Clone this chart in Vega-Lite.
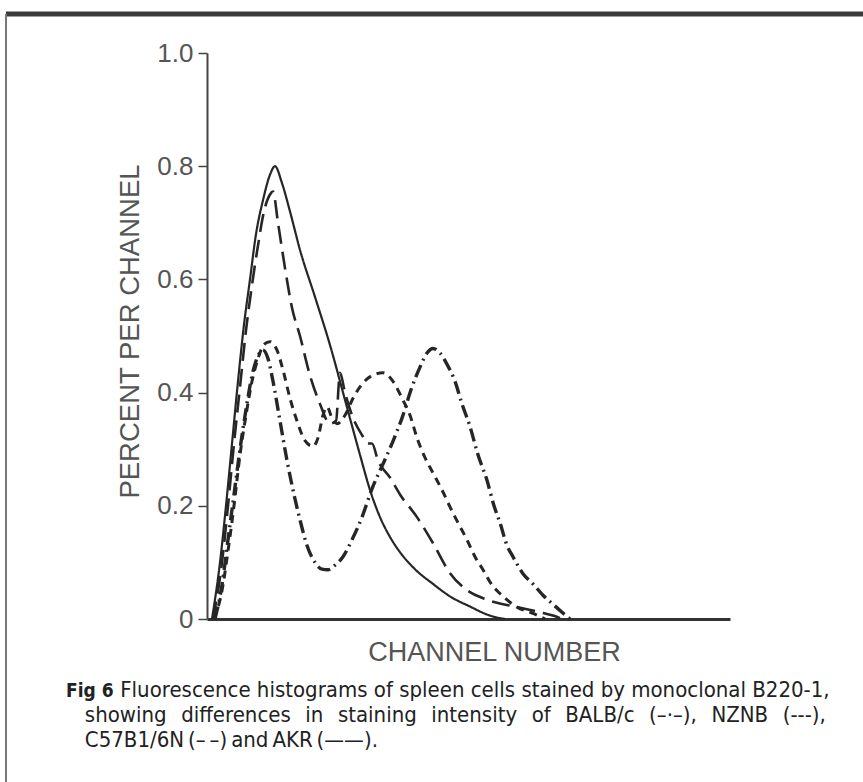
{
  "$schema": "https://vega.github.io/schema/vega-lite/v6.json",
  "width": 523,
  "height": 566,
  "autosize": {"type": "none"},
  "padding": {"left": 207, "top": 53, "right": 133, "bottom": 163},
  "background": "white",
  "config": {"view": {"stroke": null}, "font": "Liberation Sans"},
  "title": {
    "text": "Fig\u00a06",
    "subtitle": [
      "\u200b\u00a0\u00a0\u00a0\u00a0\u00a0\u00a0\u00a0\u00a0\u2009Fluorescence histograms of spleen cells stained by monoclonal B220-1,",
      "\u200b\u00a0\u00a0\u00a0showing\u00a0\u00a0\u200adifferences\u00a0\u00a0\u200ain\u00a0\u00a0\u200astaining\u00a0\u00a0\u200aintensity\u00a0\u00a0\u200aof\u00a0\u00a0\u200aBALB/c\u00a0\u00a0\u200a(–·–),\u00a0\u00a0\u200aNZNB\u00a0\u00a0\u200a(---),",
      "\u200b\u00a0\u00a0\u00a0C57B1/6N\u2009(–\u2009–)\u2009and\u2009AKR\u2009(——)."
    ],
    "orient": "bottom",
    "anchor": "start",
    "frame": "group",
    "dx": -141,
    "offset": -102,
    "font": "DejaVu Sans Condensed, Liberation Sans",
    "fontSize": 19,
    "fontWeight": "bold",
    "color": "#222",
    "subtitleFont": "DejaVu Sans Condensed, Liberation Sans",
    "subtitleFontSize": 22,
    "subtitleColor": "#222",
    "subtitleLineHeight": 25,
    "subtitlePadding": -21
  },
  "datasets": {
    "curves": [
      {"strain": "AKR", "c": 2.5, "v": 0},
      {"strain": "AKR", "c": 6.5, "v": 0.1},
      {"strain": "AKR", "c": 9.5, "v": 0.2},
      {"strain": "AKR", "c": 12.5, "v": 0.31},
      {"strain": "AKR", "c": 15.5, "v": 0.42},
      {"strain": "AKR", "c": 18.5, "v": 0.52},
      {"strain": "AKR", "c": 21.5, "v": 0.6},
      {"strain": "AKR", "c": 24.5, "v": 0.68},
      {"strain": "AKR", "c": 28, "v": 0.74},
      {"strain": "AKR", "c": 31.5, "v": 0.785},
      {"strain": "AKR", "c": 34, "v": 0.8},
      {"strain": "AKR", "c": 37.5, "v": 0.77},
      {"strain": "AKR", "c": 41.5, "v": 0.72},
      {"strain": "AKR", "c": 46.5, "v": 0.652},
      {"strain": "AKR", "c": 54, "v": 0.569},
      {"strain": "AKR", "c": 61.5, "v": 0.484},
      {"strain": "AKR", "c": 69, "v": 0.387},
      {"strain": "AKR", "c": 76.5, "v": 0.29},
      {"strain": "AKR", "c": 81.5, "v": 0.228},
      {"strain": "AKR", "c": 86.5, "v": 0.18},
      {"strain": "AKR", "c": 91.5, "v": 0.145},
      {"strain": "AKR", "c": 96.5, "v": 0.118},
      {"strain": "AKR", "c": 104, "v": 0.088},
      {"strain": "AKR", "c": 113, "v": 0.062},
      {"strain": "AKR", "c": 121.5, "v": 0.04},
      {"strain": "AKR", "c": 131.5, "v": 0.022},
      {"strain": "AKR", "c": 141.5, "v": 0.006},
      {"strain": "AKR", "c": 149, "v": 0},
      {"strain": "C57", "c": 3, "v": 0},
      {"strain": "C57", "c": 7.5, "v": 0.1},
      {"strain": "C57", "c": 10.5, "v": 0.2},
      {"strain": "C57", "c": 13.5, "v": 0.31},
      {"strain": "C57", "c": 16.5, "v": 0.41},
      {"strain": "C57", "c": 19.5, "v": 0.51},
      {"strain": "C57", "c": 22.5, "v": 0.59},
      {"strain": "C57", "c": 25.5, "v": 0.66},
      {"strain": "C57", "c": 28.5, "v": 0.72},
      {"strain": "C57", "c": 31.5, "v": 0.75},
      {"strain": "C57", "c": 33, "v": 0.755},
      {"strain": "C57", "c": 35.5, "v": 0.7},
      {"strain": "C57", "c": 39, "v": 0.62},
      {"strain": "C57", "c": 42.5, "v": 0.55},
      {"strain": "C57", "c": 46.5, "v": 0.5},
      {"strain": "C57", "c": 51.5, "v": 0.43},
      {"strain": "C57", "c": 56.5, "v": 0.38},
      {"strain": "C57", "c": 61.5, "v": 0.345},
      {"strain": "C57", "c": 64.5, "v": 0.35},
      {"strain": "C57", "c": 66.5, "v": 0.435},
      {"strain": "C57", "c": 69, "v": 0.4},
      {"strain": "C57", "c": 72.5, "v": 0.36},
      {"strain": "C57", "c": 77.5, "v": 0.325},
      {"strain": "C57", "c": 80.5, "v": 0.31},
      {"strain": "C57", "c": 82.5, "v": 0.31},
      {"strain": "C57", "c": 85.5, "v": 0.28},
      {"strain": "C57", "c": 91.5, "v": 0.25},
      {"strain": "C57", "c": 96.5, "v": 0.22},
      {"strain": "C57", "c": 105, "v": 0.18},
      {"strain": "C57", "c": 113, "v": 0.134},
      {"strain": "C57", "c": 121.5, "v": 0.081},
      {"strain": "C57", "c": 130, "v": 0.051},
      {"strain": "C57", "c": 140, "v": 0.034},
      {"strain": "C57", "c": 155, "v": 0.021},
      {"strain": "C57", "c": 166.5, "v": 0.012},
      {"strain": "C57", "c": 173, "v": 0.006},
      {"strain": "C57", "c": 177.5, "v": 0},
      {"strain": "NZNB", "c": 3.5, "v": 0},
      {"strain": "NZNB", "c": 7.5, "v": 0.05},
      {"strain": "NZNB", "c": 10.5, "v": 0.12},
      {"strain": "NZNB", "c": 13.5, "v": 0.2},
      {"strain": "NZNB", "c": 16.5, "v": 0.29},
      {"strain": "NZNB", "c": 19.5, "v": 0.36},
      {"strain": "NZNB", "c": 22.5, "v": 0.42},
      {"strain": "NZNB", "c": 25.5, "v": 0.46},
      {"strain": "NZNB", "c": 28.5, "v": 0.485},
      {"strain": "NZNB", "c": 31.5, "v": 0.49},
      {"strain": "NZNB", "c": 35, "v": 0.475},
      {"strain": "NZNB", "c": 38, "v": 0.44},
      {"strain": "NZNB", "c": 41.5, "v": 0.39},
      {"strain": "NZNB", "c": 45, "v": 0.35},
      {"strain": "NZNB", "c": 49, "v": 0.315},
      {"strain": "NZNB", "c": 53, "v": 0.305},
      {"strain": "NZNB", "c": 55.5, "v": 0.32},
      {"strain": "NZNB", "c": 58, "v": 0.36},
      {"strain": "NZNB", "c": 60, "v": 0.375},
      {"strain": "NZNB", "c": 62.5, "v": 0.355},
      {"strain": "NZNB", "c": 65, "v": 0.345},
      {"strain": "NZNB", "c": 69, "v": 0.36},
      {"strain": "NZNB", "c": 73, "v": 0.39},
      {"strain": "NZNB", "c": 77.5, "v": 0.415},
      {"strain": "NZNB", "c": 82.5, "v": 0.43},
      {"strain": "NZNB", "c": 88, "v": 0.435},
      {"strain": "NZNB", "c": 93, "v": 0.42},
      {"strain": "NZNB", "c": 97.5, "v": 0.39},
      {"strain": "NZNB", "c": 101.5, "v": 0.36},
      {"strain": "NZNB", "c": 105, "v": 0.32},
      {"strain": "NZNB", "c": 109, "v": 0.285},
      {"strain": "NZNB", "c": 113, "v": 0.258},
      {"strain": "NZNB", "c": 117.5, "v": 0.228},
      {"strain": "NZNB", "c": 121.5, "v": 0.198},
      {"strain": "NZNB", "c": 125.5, "v": 0.17},
      {"strain": "NZNB", "c": 130, "v": 0.14},
      {"strain": "NZNB", "c": 134, "v": 0.11},
      {"strain": "NZNB", "c": 138, "v": 0.087},
      {"strain": "NZNB", "c": 142.5, "v": 0.06},
      {"strain": "NZNB", "c": 146.5, "v": 0.045},
      {"strain": "NZNB", "c": 155, "v": 0.021},
      {"strain": "NZNB", "c": 163, "v": 0.01},
      {"strain": "NZNB", "c": 169, "v": 0},
      {"strain": "BALB", "c": 4, "v": 0},
      {"strain": "BALB", "c": 7.5, "v": 0.06},
      {"strain": "BALB", "c": 10.5, "v": 0.14},
      {"strain": "BALB", "c": 13.5, "v": 0.22},
      {"strain": "BALB", "c": 16.5, "v": 0.3},
      {"strain": "BALB", "c": 19.5, "v": 0.37},
      {"strain": "BALB", "c": 22.5, "v": 0.43},
      {"strain": "BALB", "c": 25.5, "v": 0.465},
      {"strain": "BALB", "c": 28, "v": 0.475},
      {"strain": "BALB", "c": 30.5, "v": 0.46},
      {"strain": "BALB", "c": 33, "v": 0.42},
      {"strain": "BALB", "c": 36.5, "v": 0.35},
      {"strain": "BALB", "c": 40, "v": 0.28},
      {"strain": "BALB", "c": 43.5, "v": 0.22},
      {"strain": "BALB", "c": 46.5, "v": 0.175},
      {"strain": "BALB", "c": 50, "v": 0.13},
      {"strain": "BALB", "c": 54, "v": 0.1},
      {"strain": "BALB", "c": 57.5, "v": 0.088},
      {"strain": "BALB", "c": 60.5, "v": 0.087},
      {"strain": "BALB", "c": 64, "v": 0.095},
      {"strain": "BALB", "c": 68, "v": 0.11},
      {"strain": "BALB", "c": 72.5, "v": 0.14},
      {"strain": "BALB", "c": 77.5, "v": 0.18},
      {"strain": "BALB", "c": 82.5, "v": 0.23},
      {"strain": "BALB", "c": 87.5, "v": 0.27},
      {"strain": "BALB", "c": 92.5, "v": 0.31},
      {"strain": "BALB", "c": 97.5, "v": 0.355},
      {"strain": "BALB", "c": 102.5, "v": 0.41},
      {"strain": "BALB", "c": 106.5, "v": 0.445},
      {"strain": "BALB", "c": 110, "v": 0.47},
      {"strain": "BALB", "c": 113, "v": 0.478},
      {"strain": "BALB", "c": 116.5, "v": 0.47},
      {"strain": "BALB", "c": 120, "v": 0.45},
      {"strain": "BALB", "c": 124, "v": 0.42},
      {"strain": "BALB", "c": 127.5, "v": 0.38},
      {"strain": "BALB", "c": 131.5, "v": 0.34},
      {"strain": "BALB", "c": 135.5, "v": 0.29},
      {"strain": "BALB", "c": 140, "v": 0.245},
      {"strain": "BALB", "c": 143.5, "v": 0.2},
      {"strain": "BALB", "c": 146.5, "v": 0.17},
      {"strain": "BALB", "c": 150, "v": 0.13},
      {"strain": "BALB", "c": 153, "v": 0.11},
      {"strain": "BALB", "c": 158, "v": 0.08},
      {"strain": "BALB", "c": 163, "v": 0.062},
      {"strain": "BALB", "c": 168, "v": 0.042},
      {"strain": "BALB", "c": 173, "v": 0.026},
      {"strain": "BALB", "c": 177.5, "v": 0.012},
      {"strain": "BALB", "c": 181.5, "v": 0}
    ]
  },
  "layer": [
    {
      "data": {"name": "curves"},
      "mark": {"type": "line", "interpolate": "monotone", "color": "#262626", "strokeCap": "butt"},
      "encoding": {
        "x": {
          "field": "c",
          "type": "quantitative",
          "scale": {"domain": [0, 261.5], "nice": false, "zero": false},
          "axis": {
            "ticks": false,
            "labels": false,
            "grid": false,
            "domainColor": "#333",
            "domainWidth": 3,
            "title": "CHANNEL NUMBER",
            "titleFont": "Liberation Sans",
            "titleFontSize": 27,
            "titleFontWeight": "normal",
            "titleColor": "#555",
            "titleX": 287,
            "titleY": 41,
            "titleBaseline": "alphabetic",
            "titleAlign": "center"
          }
        },
        "y": {
          "field": "v",
          "type": "quantitative",
          "scale": {"domain": [0, 1], "nice": false},
          "axis": {
            "values": [0, 0.2, 0.4, 0.6, 0.8, 1],
            "labelExpr": "datum.value == 0 ? '0' : format(datum.value, '.1f')",
            "grid": false,
            "tickSize": 9,
            "tickColor": "#444",
            "tickWidth": 1.5,
            "domainColor": "#444",
            "domainWidth": 2,
            "labelFont": "Liberation Sans",
            "labelFontSize": 26,
            "labelColor": "#555",
            "labelPadding": 5,
            "title": "PERCENT PER CHANNEL",
            "titleFont": "Liberation Sans",
            "titleFontSize": 27.5,
            "titleFontWeight": "normal",
            "titleColor": "#555",
            "titleAngle": 270,
            "titleX": -69,
            "titleY": 278,
            "titleBaseline": "alphabetic",
            "titleAlign": "center"
          }
        },
        "strokeDash": {
          "field": "strain",
          "type": "nominal",
          "scale": {"domain": ["AKR", "C57", "NZNB", "BALB"], "range": [[1, 0], [18, 8], [8, 6], [13, 5, 2, 5]]},
          "legend": null
        },
        "strokeWidth": {
          "field": "strain",
          "type": "nominal",
          "scale": {"domain": ["AKR", "C57", "NZNB", "BALB"], "range": [2.2, 3.4, 2.2, 2]},
          "legend": null
        }
      }
    },
    {
      "data": {"values": [{"frame": "top"}]},
      "mark": {"type": "rule", "color": "#3a3a3a", "strokeWidth": 5},
      "encoding": {
        "x": {"datum": -100.5, "type": "quantitative"},
        "x2": {"datum": 330},
        "y": {"datum": 1.069, "type": "quantitative"}
      }
    },
    {
      "data": {"values": [{"frame": "left"}]},
      "mark": {"type": "rule", "color": "#777", "strokeWidth": 2},
      "encoding": {
        "x": {"datum": -100.5, "type": "quantitative"},
        "y": {"datum": 1.069, "type": "quantitative"},
        "y2": {"datum": -0.29}
      }
    }
  ]
}
